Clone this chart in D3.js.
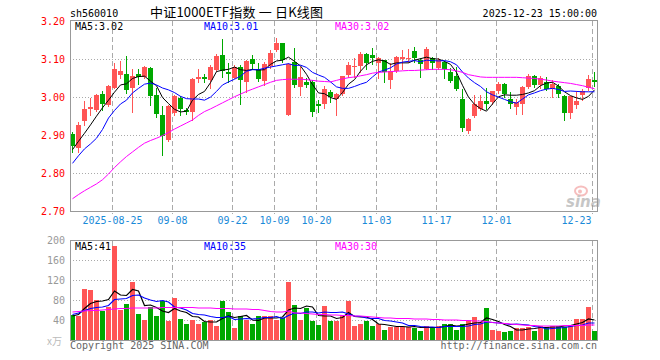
<!DOCTYPE html>
<html>
<head>
<meta charset="utf-8">
<script src="https://cdn.jsdelivr.net/npm/d3@7"></script>
<style>
body { margin: 0; background: #fff; }
</style>
</head>
<body>
<div id="chart-area"></div>
<script>
/*
*    K-line chart, sh560010
*/

// trading days (2025)
var dates = ["08-14","08-15","08-18","08-19","08-20","08-21","08-22","08-25","08-26","08-27",
	"08-28","08-29","09-01","09-02","09-03","09-04","09-05","09-08","09-09","09-10",
	"09-11","09-12","09-15","09-16","09-17","09-18","09-19","09-22","09-23","09-24",
	"09-25","09-26","09-29","09-30","10-09","10-10","10-13","10-14","10-15","10-16",
	"10-17","10-20","10-21","10-22","10-23","10-24","10-27","10-28","10-29","10-30",
	"10-31","11-03","11-04","11-05","11-06","11-07","11-10","11-11","11-12","11-13",
	"11-14","11-17","11-18","11-19","11-20","11-21","11-24","11-25","11-26","11-27",
	"11-28","12-01","12-02","12-03","12-04","12-05","12-08","12-09","12-10","12-11",
	"12-12","12-15","12-16","12-17","12-18","12-19","12-22","12-23"];

var open = [2.904,2.867,2.937,2.968,2.966,3.008,2.979,3.025,3.058,3.061,
	3.025,3.060,3.054,3.077,3.005,2.953,2.887,2.957,2.998,2.967,
	2.961,3.047,3.053,3.045,3.071,3.111,3.065,3.051,3.080,3.039,
	3.100,3.075,3.042,3.082,3.124,3.141,2.954,3.093,3.027,3.040,
	3.040,2.981,2.983,3.014,2.994,3.007,3.058,3.080,3.082,3.113,
	3.110,3.089,3.097,3.045,3.068,3.100,3.100,3.121,3.097,3.075,
	3.104,3.077,3.093,3.067,3.055,2.996,2.911,2.951,2.968,2.989,
	2.986,3.016,3.035,2.995,2.975,2.983,3.026,3.055,3.033,3.040,
	3.021,3.030,3.003,2.959,2.979,3.005,3.025,3.045];

var high = [2.909,2.935,2.989,2.999,3.008,3.016,3.031,3.089,3.095,3.109,
	3.075,3.075,3.082,3.080,3.023,2.977,2.978,3.006,3.003,2.972,
	3.049,3.075,3.062,3.084,3.112,3.153,3.089,3.084,3.084,3.097,
	3.111,3.089,3.093,3.124,3.156,3.142,3.089,3.128,3.080,3.049,
	3.045,2.992,3.030,3.018,3.012,3.056,3.093,3.104,3.119,3.115,
	3.128,3.106,3.098,3.089,3.109,3.124,3.126,3.132,3.102,3.131,
	3.106,3.102,3.095,3.077,3.080,3.021,2.944,3.005,3.005,3.025,
	3.017,3.040,3.037,3.014,2.996,3.030,3.061,3.059,3.055,3.054,
	3.045,3.035,3.005,3.004,3.016,3.021,3.058,3.065];

var low = [2.856,2.856,2.928,2.953,2.963,2.966,2.977,3.023,3.049,3.012,
	2.961,3.035,3.049,2.979,2.948,2.849,2.884,2.954,2.954,2.955,
	2.939,3.040,3.040,3.023,3.068,3.054,3.040,3.049,2.981,3.014,
	3.075,3.042,3.032,3.077,3.121,3.093,2.953,3.027,3.005,3.027,
	2.951,2.960,2.972,2.986,2.953,3.005,3.054,3.054,3.065,3.075,
	3.088,3.049,3.040,3.025,3.066,3.075,3.093,3.093,3.054,3.074,
	3.075,3.074,3.049,3.040,3.018,2.911,2.907,2.948,2.966,2.970,
	2.981,3.012,3.001,2.972,2.956,2.956,3.023,3.027,3.023,3.018,
	3.001,3.000,2.939,2.944,2.972,2.992,3.020,3.030];

var close = [2.872,2.928,2.968,2.975,3.005,2.983,3.030,3.074,3.068,3.018,
	3.056,3.054,3.080,3.003,2.955,2.897,2.977,3.004,2.968,2.962,
	3.047,3.053,3.047,3.080,3.109,3.068,3.060,3.080,3.045,3.095,
	3.087,3.047,3.086,3.115,3.141,3.097,3.086,3.032,3.054,3.033,
	2.961,2.977,3.021,3.001,3.008,3.055,3.084,3.082,3.113,3.089,
	3.103,3.104,3.067,3.068,3.106,3.106,3.103,3.102,3.086,3.126,
	3.089,3.097,3.074,3.043,3.021,2.918,2.942,2.981,2.989,2.983,
	3.016,3.035,3.007,2.983,2.986,3.026,3.055,3.033,3.049,3.021,
	3.035,3.007,2.957,3.002,2.989,3.016,3.047,3.039];

// volume (10k lots)
var volume = [52,50,104,101,81,59,67,189,61,74,
	117,54,42,68,50,80,39,85,43,34,
	41,34,37,41,30,79,57,25,49,42,
	34,49,50,49,41,46,117,72,42,66,
	39,31,69,40,39,52,79,29,34,39,
	29,34,22,28,28,28,28,26,19,30,
	26,29,34,34,21,34,41,47,37,65,
	22,19,17,19,26,26,28,19,30,28,
	30,30,28,32,44,44,67,19];

// moving average lines as drawn
var ma5 = [2.862,2.884,2.905,2.927,2.950,2.972,2.992,3.013,3.032,3.035,
	3.049,3.054,3.055,3.042,3.030,2.999,2.983,2.968,2.961,2.963,
	2.992,3.007,3.015,3.038,3.067,3.071,3.073,3.079,3.072,3.070,
	3.073,3.071,3.072,3.086,3.095,3.097,3.105,3.094,3.082,3.060,
	3.033,3.011,3.009,2.999,2.994,3.012,3.034,3.046,3.068,3.085,
	3.094,3.098,3.095,3.086,3.090,3.090,3.090,3.097,3.101,3.105,
	3.101,3.100,3.094,3.086,3.065,3.031,3.000,2.981,2.970,2.963,
	2.982,3.001,3.006,3.005,3.005,3.007,3.011,3.017,3.030,3.037,
	3.039,3.029,3.014,3.004,2.998,2.994,3.002,3.019];

var ma10 = [2.826,2.846,2.864,2.877,2.892,2.915,2.945,2.965,2.982,2.992,
	3.011,3.023,3.034,3.037,3.032,3.024,3.019,3.012,3.002,2.996,
	2.995,2.995,2.992,3.000,3.015,3.032,3.040,3.047,3.055,3.068,
	3.072,3.072,3.076,3.079,3.082,3.085,3.088,3.083,3.084,3.078,
	3.065,3.058,3.052,3.040,3.027,3.023,3.023,3.028,3.034,3.039,
	3.053,3.066,3.071,3.077,3.087,3.092,3.094,3.096,3.093,3.097,
	3.096,3.095,3.096,3.093,3.085,3.066,3.050,3.038,3.028,3.014,
	3.006,3.000,2.994,2.988,2.984,2.995,3.006,3.011,3.017,3.021,
	3.023,3.020,3.015,3.016,3.015,3.014,3.014,3.014];

var ma30 = [2.733,2.744,2.754,2.763,2.772,2.783,2.798,2.815,2.830,2.844,
	2.856,2.868,2.879,2.886,2.892,2.899,2.907,2.916,2.924,2.932,
	2.940,2.952,2.962,2.969,2.977,2.985,2.993,3.001,3.008,3.015,
	3.021,3.027,3.033,3.039,3.044,3.046,3.047,3.047,3.047,3.046,
	3.044,3.042,3.041,3.040,3.044,3.048,3.051,3.053,3.056,3.059,
	3.063,3.065,3.066,3.067,3.068,3.069,3.070,3.070,3.071,3.072,
	3.073,3.073,3.073,3.072,3.069,3.065,3.059,3.056,3.053,3.052,
	3.052,3.052,3.052,3.052,3.052,3.051,3.050,3.049,3.047,3.045,
	3.042,3.040,3.038,3.036,3.033,3.030,3.026,3.022];

var vma5 = [49,52,64,74,78,79,82,99,91,90,
	102,99,70,71,66,59,56,64,59,56,
	48,47,38,37,37,44,49,46,48,50,
	41,40,45,45,45,47,61,65,64,69,
	67,50,49,49,44,46,56,48,47,47,
	42,33,32,30,28,28,27,28,26,26,
	26,26,28,31,29,30,33,35,36,45,
	42,38,32,28,21,21,23,24,26,26,
	27,27,29,30,33,36,43,41];

var vma10 = [52,55,60,64,66,67,70,82,83,84,
	90,91,85,81,78,80,77,67,65,61,
	54,52,51,48,46,46,48,42,43,44,
	43,44,46,46,48,44,50,55,54,57,
	57,55,57,56,56,57,53,49,48,45,
	44,44,40,39,37,35,30,30,28,27,
	27,26,28,28,28,28,29,32,33,37,
	36,35,34,32,33,32,31,28,27,23,
	24,25,26,28,30,31,35,35];

var vma30 = [57,58,59,60,60,61,62,63,64,64,
	65,65,65,65,65,66,66,66,66,66,
	66,65,65,65,64,64,64,63,63,63,
	62,62,60,58,57,57,59,55,55,54,
	53,52,52,51,51,50,50,49,49,48,
	47,46,45,45,44,44,44,43,43,43,
	42,42,41,41,41,40,40,39,39,38,
	36,35,34,33,32,31,30,30,29,29,
	29,29,30,30,30,30,31,31];

// ticks and labels
var priceTicks = [2.70, 2.80, 2.90, 3.00, 3.10, 3.20];
var volTicks = [40, 80, 120, 160, 200];
var dateTicks = ["08-25","09-08","09-22","10-09","10-20","11-03","11-17","12-01","12-23"];
var dateTickLabels = ["2025-08-25","09-08","09-22","10-09","10-20","11-03","11-17","12-01","12-23"];
var maLabels = ["MA5:3.02", "MA10:3.01", "MA30:3.02"];
var vmaLabels = ["MA5:41", "MA10:35", "MA30:30"];

var W = 660, H = 360;
var left = 70, right = 598;
var upColor = "#ff5555", downColor = "#00a800";
var maColors = ["#000000", "#0000ff", "#ff00ff"];
var monoFont = "'DejaVu Sans Mono', 'Liberation Mono', monospace";

var svg = d3.select("#chart-area")
	.append("svg")
		.attr("width", W)
		.attr("height", H);

//Scales
var x = d3.scaleLinear()
		.domain([0, dates.length])
		.range([left, right]);
var y = d3.scaleLinear()
		.domain([2.70, 3.20])
		.range([211.3, 21]);
var yv = d3.scaleLinear()
		.domain([0, 200])
		.range([340.5, 240.5]);

function mono(sel){
	sel.attr("font-family", monoFont).attr("font-size", "10px");
}

var tickIdx = dateTicks.map(function(d){ return dates.indexOf(d); });

//grid: horizontal dotted
svg.append("g").selectAll("line")
	.data(priceTicks.slice(1, -1))
	.enter().append("line")
		.attr("x1", left).attr("x2", right)
		.attr("y1", function(d){ return Math.floor(y(d)) + 0.5; })
		.attr("y2", function(d){ return Math.floor(y(d)) + 0.5; })
		.attr("stroke", "#aaa")
		.attr("stroke-dasharray", "1,2");

svg.append("g").selectAll("line")
	.data(volTicks.slice(0, -1))
	.enter().append("line")
		.attr("x1", left).attr("x2", right)
		.attr("y1", function(d){ return Math.floor(yv(d)) + 0.5; })
		.attr("y2", function(d){ return Math.floor(yv(d)) + 0.5; })
		.attr("stroke", "#aaa")
		.attr("stroke-dasharray", "1,2");

//grid: vertical dashed (both panels)
[[21, 214], [241, 340]].forEach(function(span){
	svg.append("g").selectAll("line")
		.data(tickIdx)
		.enter().append("line")
			.attr("x1", function(i){ return x(i) + 0.5; })
			.attr("x2", function(i){ return x(i) + 0.5; })
			.attr("y1", span[0]).attr("y2", span[1])
			.attr("stroke", "#aaa")
			.attr("stroke-dasharray", "5,3");
});

//sina watermark
var wm = svg.append("g").attr("opacity", 0.55);
wm.append("ellipse")
	.attr("cx", 581).attr("cy", 191).attr("rx", 6).attr("ry", 4.5)
	.attr("fill", "none").attr("stroke", "#f08a8a").attr("stroke-width", 2);
wm.append("circle")
	.attr("cx", 580).attr("cy", 191.5).attr("r", 2)
	.attr("fill", "#f08a8a");
wm.append("text")
	.attr("x", 566).attr("y", 207)
	.attr("font-family", "'DejaVu Sans', sans-serif")
	.attr("font-size", "15px")
	.attr("font-weight", "bold")
	.attr("font-style", "italic")
	.attr("fill", "#999")
	.text("sina");

//candles
var candles = svg.append("g").selectAll("g")
	.data(dates)
	.enter().append("g");

candles.append("line")
	.attr("x1", function(d, i){ return x(i) + 2.5; })
	.attr("x2", function(d, i){ return x(i) + 2.5; })
	.attr("y1", function(d, i){ return Math.round(y(high[i])); })
	.attr("y2", function(d, i){ return Math.round(y(low[i])) + 1; })
	.attr("stroke", function(d, i){ return close[i] >= open[i] ? upColor : downColor; });

candles.append("rect")
	.attr("x", function(d, i){ return x(i); })
	.attr("width", 5)
	.attr("y", function(d, i){ return Math.round(y(Math.max(open[i], close[i]))); })
	.attr("height", function(d, i){
		var h = Math.round(y(Math.min(open[i], close[i]))) - Math.round(y(Math.max(open[i], close[i])));
		return Math.max(1, h);
	})
	.attr("fill", function(d, i){ return close[i] >= open[i] ? upColor : downColor; });

//volume bars
svg.append("g").selectAll("rect")
	.data(volume)
	.enter().append("rect")
		.attr("x", function(d, i){ return x(i); })
		.attr("width", 5)
		.attr("y", function(d){ return Math.round(yv(d)); })
		.attr("height", function(d){ return 340 - Math.round(yv(d)); })
		.attr("fill", function(d, i){ return close[i] >= open[i] ? upColor : downColor; });

//MA lines
var priceLine = d3.line()
	.x(function(d, i){ return x(i) + 2.5; })
	.y(function(d){ return y(d); });
var volLine = d3.line()
	.x(function(d, i){ return x(i) + 2.5; })
	.y(function(d){ return yv(d); });

[ma5, ma10, ma30].forEach(function(s, k){
	svg.append("path")
		.attr("d", priceLine(s))
		.attr("fill", "none")
		.attr("stroke", maColors[k])
		.attr("stroke-width", 1);
});
[vma5, vma10, vma30].forEach(function(s, k){
	svg.append("path")
		.attr("d", volLine(s))
		.attr("fill", "none")
		.attr("stroke", maColors[k])
		.attr("stroke-width", 1.2);
});

//panel borders
svg.append("rect")
	.attr("x", left + 0.5).attr("y", 20.5)
	.attr("width", right - left - 1).attr("height", 191)
	.attr("fill", "none").attr("stroke", "#999");
svg.append("rect")
	.attr("x", left + 0.5).attr("y", 240.5)
	.attr("width", right - left - 1).attr("height", 100)
	.attr("fill", "none").attr("stroke", "#999");

//price axis
var yAxisCall = d3.axisLeft(y)
	.tickValues(priceTicks)
	.tickFormat(d3.format(".2f"))
	.tickSize(0)
	.tickPadding(5);
var yAxis = svg.append("g")
	.attr("transform", "translate(" + left + ",0)")
	.call(yAxisCall);
yAxis.select(".domain").remove();
yAxis.selectAll("text").attr("fill", "#ff0000").call(mono);

//volume axis
var yvAxisCall = d3.axisLeft(yv)
	.tickValues(volTicks)
	.tickSize(0)
	.tickPadding(5);
var yvAxis = svg.append("g")
	.attr("transform", "translate(" + left + ",0)")
	.call(yvAxisCall);
yvAxis.select(".domain").remove();
yvAxis.selectAll("text").attr("fill", "#999").call(mono);

//date axis
var xAxisCall = d3.axisBottom(x)
	.tickValues(tickIdx)
	.tickFormat(function(d, k){ return dateTickLabels[k]; })
	.tickSize(0)
	.tickPadding(6);
var xAxis = svg.append("g")
	.attr("transform", "translate(0,211)")
	.call(xAxisCall);
xAxis.select(".domain").remove();
xAxis.selectAll("text").attr("fill", "#1a8ad8").call(mono);
xAxis.selectAll(".tick").filter(function(d, k){ return k === tickIdx.length - 1; })
	.select("text")
		.attr("text-anchor", "end")
		.attr("x", -1);

//header
svg.append("text")
	.attr("x", 70).attr("y", 16.5)
	.attr("fill", "#000")
	.text("sh560010")
	.call(mono);
svg.append("text")
	.attr("x", 150).attr("y", 17)
	.attr("font-family", "'Noto Sans CJK SC', sans-serif")
	.attr("font-size", "13px")
	.attr("textLength", 173)
	.attr("lengthAdjust", "spacing")
	.attr("fill", "#000")
	.text("中证1000ETF指数 一 日K线图");
svg.append("text")
	.attr("x", 597).attr("y", 16.5)
	.attr("text-anchor", "end")
	.attr("fill", "#000")
	.text("2025-12-23 15:00:00")
	.call(mono);

//legends
var legendX = [75, 204, 335];
maLabels.forEach(function(t, k){
	svg.append("text")
		.attr("x", legendX[k]).attr("y", 30)
		.attr("fill", maColors[k])
		.text(t)
		.call(mono);
});
vmaLabels.forEach(function(t, k){
	svg.append("text")
		.attr("x", legendX[k]).attr("y", 250)
		.attr("fill", maColors[k])
		.text(t)
		.call(mono);
});

//footer
svg.append("text")
	.attr("x", 47).attr("y", 345)
	.attr("fill", "#bbb")
	.attr("font-family", "'Noto Sans CJK SC', sans-serif")
	.attr("font-size", "10px")
	.text("x万");
svg.append("text")
	.attr("x", 70).attr("y", 349)
	.attr("fill", "#666")
	.text("Copyright 2025 SINA.COM")
	.call(mono);
svg.append("text")
	.attr("x", 597).attr("y", 349)
	.attr("text-anchor", "end")
	.attr("fill", "#666")
	.text("http://finance.sina.com.cn")
	.call(mono);
</script>
</body>
</html>
